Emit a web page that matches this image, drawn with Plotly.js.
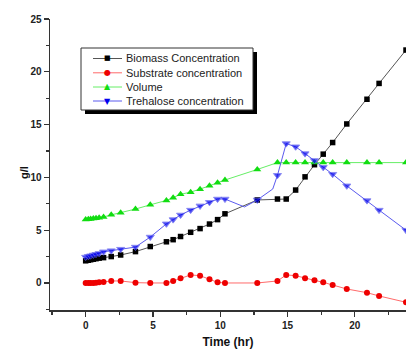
<!DOCTYPE html>
<html><head><meta charset="utf-8">
<script src="https://cdn.plot.ly/plotly-3.0.1.min.js"></script>
<style>html,body{margin:0;padding:0;background:#fff;}#chart{width:406px;height:349px;}</style>
</head><body><div id="chart"></div>
<script>
// Time points (hr)
const time = [0, 0.2, 0.37, 0.57, 0.77, 1.0, 1.33, 1.9, 2.6, 3.7, 4.8, 6.0, 6.5, 7.05, 7.8, 8.5, 9.2, 9.8, 10.35, 12.75, 14.25, 14.9, 15.6, 16.3, 17.0, 17.65, 18.35, 19.4, 20.9, 21.8, 23.8];
const biomass = [2.1, 2.15, 2.2, 2.25, 2.3, 2.35, 2.4, 2.5, 2.65, 2.97, 3.45, 3.9, 4.1, 4.4, 4.8, 5.15, 5.58, 6.0, 6.55, 7.86, 7.95, 7.95, 8.8, 10.05, 11.2, 12.2, 13.3, 15.06, 17.4, 18.9, 22.06];
const substrate = [0, 0, 0, 0, 0.03, 0.06, 0.1, 0.19, 0.19, 0.03, 0, 0, 0.19, 0.44, 0.76, 0.69, 0.35, 0.06, 0, 0, 0.19, 0.76, 0.69, 0.44, 0.25, 0.06, -0.19, -0.57, -0.92, -1.23, -1.83];
const volume = [6.0, 6.03, 6.06, 6.1, 6.13, 6.18, 6.25, 6.45, 6.65, 7.0, 7.4, 7.82, 8.08, 8.4, 8.6, 8.88, 9.2, 9.5, 9.75, 10.75, 11.4, 11.4, 11.4, 11.4, 11.4, 11.4, 11.4, 11.4, 11.4, 11.4, 11.4];
// Trehalose has two extra line vertices without visible markers
const treTime = [0, 0.2, 0.37, 0.57, 0.77, 1.0, 1.33, 1.9, 2.6, 3.7, 4.8, 6.0, 6.5, 7.05, 7.8, 8.5, 9.2, 9.8, 10.35, 11.8, 12.75, 13.9, 14.25, 14.9, 15.6, 16.3, 17.0, 17.65, 18.35, 19.4, 20.9, 21.8, 23.8];
const trehalose = [2.45, 2.52, 2.58, 2.65, 2.72, 2.8, 2.95, 3.06, 3.2, 3.4, 4.35, 5.6, 6.0, 6.44, 6.9, 7.3, 7.64, 7.95, 7.95, 7.2, 7.86, 8.9, 10.2, 13.2, 12.9, 12.25, 11.6, 10.95, 10.3, 9.2, 7.8, 6.9, 5.0];
const treHidden = [11.8, 13.9];

const names = ['Biomass Concentration', 'Substrate concentration', 'Volume', 'Trehalose concentration'];
const xTicks = [0, 5, 10, 15, 20];
const yTicks = [0, 5, 10, 15, 20, 25];

const lineColors = ['#555555', '#ff6a6a', '#66ee66', '#5a5aee'];
const markColors = ['#000000', '#ee0000', '#11dd11', '#0000ee'];
const glyphs = ['\u25A0', '\u25CF', '\u25B2', '\u25BC'];

const traces = [
  {x: time, y: biomass, name: names[0], mode: 'lines+markers',
   line: {color: lineColors[0], width: 1}, marker: {symbol: 'square', size: 5.5, color: markColors[0]}},
  {x: time, y: substrate, name: names[1], mode: 'lines+markers',
   line: {color: lineColors[1], width: 1}, marker: {symbol: 'circle', size: 6, color: markColors[1]}},
  {x: time, y: volume, name: names[2], mode: 'lines+markers',
   line: {color: lineColors[2], width: 1}, marker: {symbol: 'triangle-up', size: 7, color: markColors[2]}},
  {x: treTime, y: trehalose, name: names[3], mode: 'lines+markers',
   line: {color: lineColors[3], width: 1},
   marker: {symbol: 'triangle-down', size: treTime.map(t => treHidden.includes(t) ? 0 : 7), color: markColors[3]}}
];
traces.forEach(t => { t.cliponaxis = false; t.showlegend = false; });

const font = 'Liberation Sans, Arial, sans-serif';
const M = {l: 50, r: 0, t: 19, b: 39};
const W = 406, H = 349;
const pw = W - M.l - M.r, ph = H - M.t - M.b;
const PX = v => (v - M.l) / pw;
const PY = v => (H - M.b - v) / ph;

// legend drawn manually (Origin-style compact box with drop shadow)
const box = {x0: 81, x1: 253, y0: 48, y1: 110};
const rowY = [58.5, 72.8, 87, 101];
const shapes = [
  {type: 'rect', xref: 'paper', yref: 'paper', layer: 'above',
   x0: PX(box.x0 + 4), x1: PX(box.x1 + 4), y0: PY(box.y1 + 4), y1: PY(box.y0 + 4),
   fillcolor: '#000000', line: {width: 0}},
  {type: 'rect', xref: 'paper', yref: 'paper', layer: 'above',
   x0: PX(box.x0), x1: PX(box.x1), y0: PY(box.y1), y1: PY(box.y0),
   fillcolor: '#ffffff', line: {color: '#333333', width: 1}}
];
const annotations = [{text: 'g/l', xref: 'paper', yref: 'paper', x: PX(16), y: PY(173), showarrow: false,
                 textangle: -90, font: {family: font, size: 11, color: '#111', weight: 'bold'}}];
names.forEach((n, i) => {
  shapes.push({type: 'line', xref: 'paper', yref: 'paper', layer: 'above',
    x0: PX(93), x1: PX(122), y0: PY(rowY[i]), y1: PY(rowY[i]), line: {color: lineColors[i], width: 1}});
  annotations.push({text: glyphs[i], xref: 'paper', yref: 'paper', x: PX(107.5), y: PY(rowY[i]),
    xanchor: 'center', yanchor: 'middle', showarrow: false,
    font: {family: 'DejaVu Sans', size: i === 0 ? 7 : 8, color: markColors[i]}});
  annotations.push({text: n, xref: 'paper', yref: 'paper', x: PX(124), y: PY(rowY[i]),
    xanchor: 'left', yanchor: 'middle', showarrow: false,
    font: {family: font, size: 11, color: '#222'}});
});

const layout = {
  width: W, height: H, margin: M,
  paper_bgcolor: '#ffffff', plot_bgcolor: '#ffffff',
  showlegend: false,
  xaxis: {range: [-2.65, 23.8], tickvals: xTicks, ticktext: xTicks.map(String),
          showgrid: false, zeroline: false, showline: true, linecolor: '#333', linewidth: 1.5,
          ticks: 'outside', ticklen: 5, tickwidth: 1.2, tickcolor: '#333',
          minor: {dtick: 2.5, tick0: 0, ticks: 'outside', ticklen: 3, tickcolor: '#333', showgrid: false},
          tickfont: {family: font, size: 10, color: '#222', weight: 'bold'},
          title: {text: 'Time (hr)', font: {family: font, size: 12, color: '#111', weight: 'bold'}, standoff: 8}},
  yaxis: {range: [-2.56, 25], tickvals: yTicks, ticktext: yTicks.map(String),
          showgrid: false, zeroline: false, showline: true, linecolor: '#333', linewidth: 1.5,
          ticks: 'outside', ticklen: 5, tickwidth: 1.2, tickcolor: '#333',
          minor: {dtick: 2.5, tick0: 0, ticks: 'outside', ticklen: 3, tickcolor: '#333', showgrid: false},
          tickfont: {family: font, size: 10, color: '#222', weight: 'bold'}},
  annotations: annotations,
  shapes: shapes
};

Plotly.newPlot('chart', traces, layout, {displayModeBar: false, staticPlot: true});
</script></body></html>
